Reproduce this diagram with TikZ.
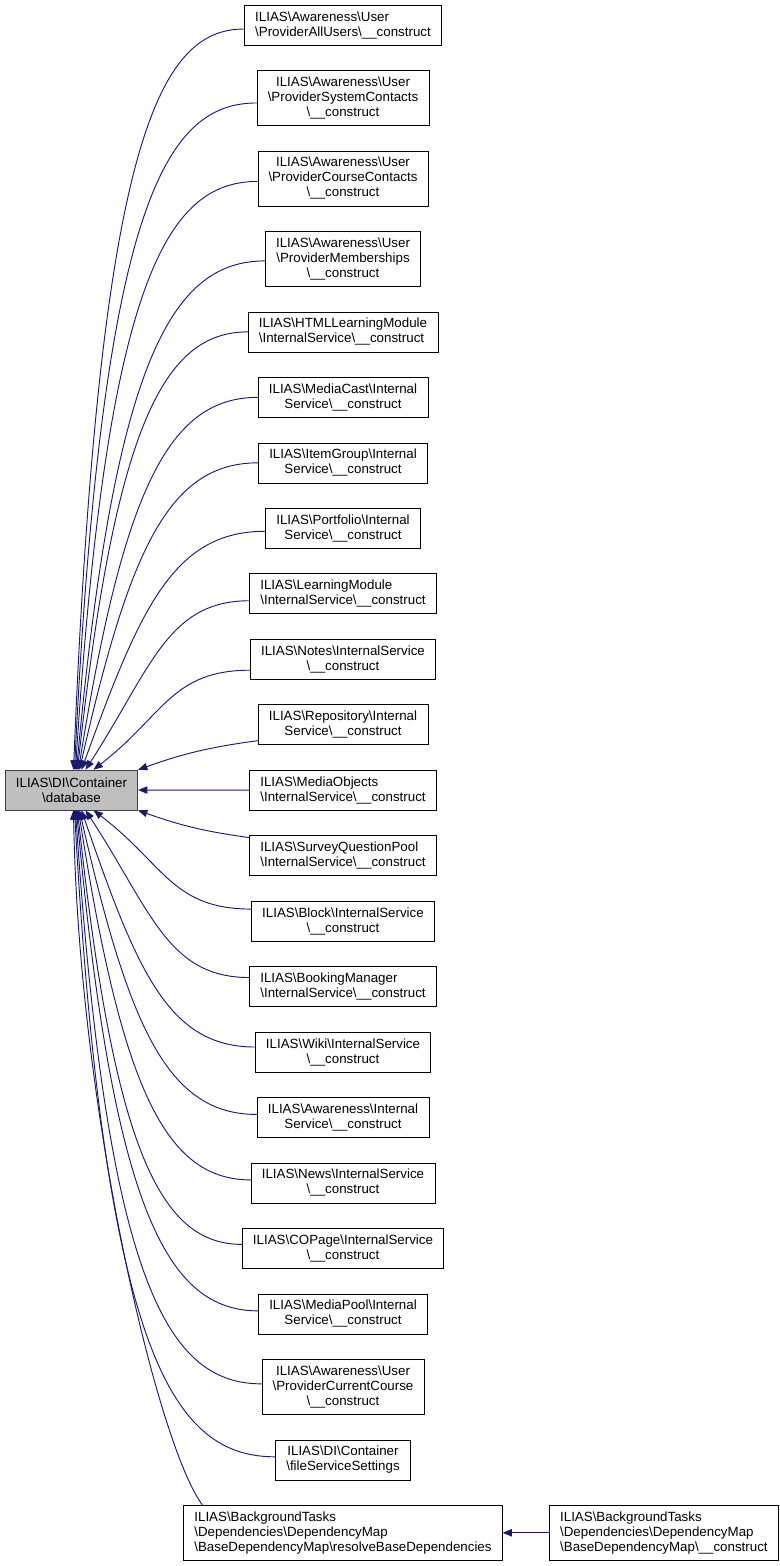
\documentclass[tikz,border=0pt]{standalone}
\usepackage{fontspec}
\setmainfont{Liberation Sans}
\usetikzlibrary{positioning,calc,arrows.meta}
\definecolor{midnight}{RGB}{25,25,112}
\definecolor{nodegray}{RGB}{191,191,191}
\definecolor{darkrim}{RGB}{64,64,64}
\newcommand{\bsl}{\textbackslash}
\begin{document}
\begin{tikzpicture}[x=0.75pt,y=-0.75pt,node distance=18.7pt]
  \tikzstyle{every node}=[draw,align=center,inner xsep=8pt,minimum height=30pt,
                          font=\fontsize{10}{11.25}\selectfont]
  \tikzstyle{three}=[minimum height=41.25pt]
  \tikzstyle{lft}=[align=left]
  \tikzstyle{callarrow}=[draw=midnight,line width=0.7pt,-{Triangle[length=7pt,width=5.5pt]}]
  \useasboundingbox (0,0) rectangle (780,1566);
  % the called member
  \node[fill=nodegray,draw=darkrim] (main) at (71.5,790) {ILIAS\bsl DI\bsl Container\\\bsl database};
  % callers
  \node[lft] (n1) at (343,25) {ILIAS\bsl Awareness\bsl User\\\bsl ProviderAllUsers\bsl\_\_construct};
  \node[three,below=of n1] (n2) {ILIAS\bsl Awareness\bsl User\\\bsl ProviderSystemContacts\\\bsl\_\_construct};
  \node[three,below=of n2] (n3) {ILIAS\bsl Awareness\bsl User\\\bsl ProviderCourseContacts\\\bsl\_\_construct};
  \node[three,below=of n3] (n4) {ILIAS\bsl Awareness\bsl User\\\bsl ProviderMemberships\\\bsl\_\_construct};
  \node[lft,below=of n4] (n5) {ILIAS\bsl HTMLLearningModule\\\bsl InternalService\bsl\_\_construct};
  \node[below=of n5] (n6) {ILIAS\bsl MediaCast\bsl Internal\\Service\bsl\_\_construct};
  \node[below=of n6] (n7) {ILIAS\bsl ItemGroup\bsl Internal\\Service\bsl\_\_construct};
  \node[below=of n7] (n8) {ILIAS\bsl Portfolio\bsl Internal\\Service\bsl\_\_construct};
  \node[lft,below=of n8] (n9) {ILIAS\bsl LearningModule\\\bsl InternalService\bsl\_\_construct};
  \node[below=of n9] (n10) {ILIAS\bsl Notes\bsl InternalService\\\bsl\_\_construct};
  \node[below=of n10] (n11) {ILIAS\bsl Repository\bsl Internal\\Service\bsl\_\_construct};
  \node[lft,below=of n11] (n12) {ILIAS\bsl MediaObjects\\\bsl InternalService\bsl\_\_construct};
  \node[lft,below=of n12] (n13) {ILIAS\bsl SurveyQuestionPool\\\bsl InternalService\bsl\_\_construct};
  \node[below=of n13] (n14) {ILIAS\bsl Block\bsl InternalService\\\bsl\_\_construct};
  \node[lft,below=of n14] (n15) {ILIAS\bsl BookingManager\\\bsl InternalService\bsl\_\_construct};
  \node[below=of n15] (n16) {ILIAS\bsl Wiki\bsl InternalService\\\bsl\_\_construct};
  \node[below=of n16] (n17) {ILIAS\bsl Awareness\bsl Internal\\Service\bsl\_\_construct};
  \node[below=of n17] (n18) {ILIAS\bsl News\bsl InternalService\\\bsl\_\_construct};
  \node[below=of n18] (n19) {ILIAS\bsl COPage\bsl InternalService\\\bsl\_\_construct};
  \node[below=of n19] (n20) {ILIAS\bsl MediaPool\bsl Internal\\Service\bsl\_\_construct};
  \node[three,below=of n20] (n21) {ILIAS\bsl Awareness\bsl User\\\bsl ProviderCurrentCourse\\\bsl\_\_construct};
  \node[below=of n21] (n22) {ILIAS\bsl DI\bsl Container\\\bsl fileServiceSettings};
  \node[three,lft,below=of n22] (n23) {ILIAS\bsl BackgroundTasks\\\bsl Dependencies\bsl DependencyMap\\\bsl BaseDependencyMap\bsl resolveBaseDependencies};
  \node[three,lft,right=35pt of n23] (n24) {ILIAS\bsl BackgroundTasks\\\bsl Dependencies\bsl DependencyMap\\\bsl BaseDependencyMap\bsl\_\_construct};
  % edges into the top of the called member
  \foreach \c/\s/\a/\d in {n1/2/.15/4,n2/3/.15/5,n3/4/.17/3,n4/5/.2/2,n5/6/.22/0,n6/7/.25/0,
                           n7/8/.28/0,n8/10/.32/3,n9/14/.4/7,n10/22/.45/11}
    \draw[callarrow] let \p1=($(\c.west)+(0,\d)$), \p2=($(main.north)+(\s,0)$) in
      (\p1) .. controls ({(\x1+\x2)/2},\y1) and ({\x2+\a*(\x1-\x2)},{\y2+(1-\a)*(\y1-\y2)}) .. (\p2);
  % edges into the bottom
  \foreach \c/\s/\a/\d in {n14/22/.45/-12,n15/14/.4/-9,n16/10/.32/-5,n17/8/.28/-3,n18/7/.25/-3,
                           n19/6/.22/-4,n20/5/.2/-3,n21/4/.17/-3,n22/3/.15/-3}
    \draw[callarrow] let \p1=($(\c.west)+(0,\d)$), \p2=($(main.south)+(\s,0)$) in
      (\p1) .. controls ({(\x1+\x2)/2},\y1) and ({\x2+\a*(\x1-\x2)},{\y2+(1-\a)*(\y1-\y2)}) .. (\p2);
  \draw[callarrow] ($(n11.west)+(0,16)$) to[bend right=6] (main.north east);
  \draw[callarrow] (n12) -- (main);
  \draw[callarrow] ($(n13.west)+(0,-18)$) to[bend left=6] (main.south east);
  \draw[callarrow] ($(n23.north west)+(19,0)$) .. controls +(-45,-60) and +(5,300) .. ($(main.south)+(2,0)$);
  \draw[callarrow] (n24) -- (n23);
\end{tikzpicture}
\end{document}
